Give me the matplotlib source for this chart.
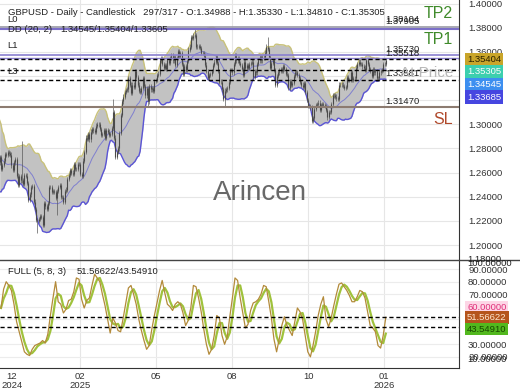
import numpy as np
import pandas as pd
import matplotlib
matplotlib.use('Agg')
import matplotlib.pyplot as plt

plt.rcParams['font.family'] = ['Liberation Sans', 'DejaVu Sans']

# daily closes 04 Nov 2024 .. 26 Jan 2026; the first 20 only warm up the bands
warmup = 20
closes = [
    1.2960, 1.3040, 1.2880, 1.2990, 1.2920, 1.2860, 1.2760, 1.2700, 1.2665, 1.2615,
    1.2660, 1.2680, 1.2670, 1.2590, 1.2530, 1.2570, 1.2570, 1.2675, 1.2685, 1.2730,
    1.2630, 1.2665, 1.2700, 1.2755, 1.2745, 1.2770, 1.2760, 1.2750, 1.2660, 1.2620,
    1.2685, 1.2710, 1.2575, 1.2500, 1.2570, 1.2535, 1.2535, 1.2510, 1.2580, 1.2575,
    1.2515, 1.2375, 1.2420, 1.2480, 1.2490, 1.2360, 1.2300, 1.2205, 1.2200, 1.2215,
    1.2240, 1.2235, 1.2170, 1.2350, 1.2320, 1.2300, 1.2350, 1.2480, 1.2480, 1.2440,
    1.2450, 1.2440, 1.2390, 1.2450, 1.2480, 1.2495, 1.2400, 1.2400, 1.2360, 1.2450,
    1.2460, 1.2550, 1.2580, 1.2620, 1.2600, 1.2590, 1.2670, 1.2630, 1.2630, 1.2670,
    1.2670, 1.2590, 1.2575, 1.2700, 1.2770, 1.2890, 1.2880, 1.2920, 1.2875, 1.2940,
    1.2960, 1.2950, 1.2935, 1.2990, 1.3000, 1.3000, 1.2960, 1.2915, 1.2920, 1.2950,
    1.2885, 1.2950, 1.2940, 1.2915, 1.2920, 1.2970, 1.3100, 1.2890, 1.2730, 1.2770,
    1.2800, 1.2930, 1.3080, 1.3190, 1.3230, 1.3270, 1.3285, 1.3290, 1.3380, 1.3330,
    1.3260, 1.3330, 1.3310, 1.3440, 1.3390, 1.3330, 1.3280, 1.3270, 1.3300, 1.3380,
    1.3320, 1.3240, 1.3300, 1.3190, 1.3320, 1.3290, 1.3300, 1.3280, 1.3360, 1.3370,
    1.3410, 1.3420, 1.3530, 1.3545, 1.3500, 1.3470, 1.3490, 1.3460, 1.3530, 1.3510,
    1.3550, 1.3570, 1.3530, 1.3560, 1.3495, 1.3550, 1.3610, 1.3570, 1.3590, 1.3500,
    1.3420, 1.3485, 1.3450, 1.3525, 1.3620, 1.3645, 1.3720, 1.3715, 1.3735, 1.3740,
    1.3640, 1.3645, 1.3650, 1.3630, 1.3590, 1.3590, 1.3570, 1.3495, 1.3440, 1.3385,
    1.3410, 1.3415, 1.3440, 1.3490, 1.3520, 1.3560, 1.3510, 1.3440, 1.3350, 1.3355,
    1.3290, 1.3210, 1.3280, 1.3290, 1.3300, 1.3355, 1.3450, 1.3450, 1.3430, 1.3500,
    1.3570, 1.3530, 1.3550, 1.3510, 1.3490, 1.3460, 1.3410, 1.3520, 1.3470, 1.3490,
    1.3470, 1.3500, 1.3510, 1.3520, 1.3390, 1.3440, 1.3430, 1.3500, 1.3530, 1.3560,
    1.3530, 1.3560, 1.3555, 1.3595, 1.3645, 1.3625, 1.3560, 1.3470, 1.3510, 1.3530,
    1.3450, 1.3330, 1.3400, 1.3430, 1.3445, 1.3460, 1.3440, 1.3480, 1.3460, 1.3420,
    1.3410, 1.3300, 1.3360, 1.3330, 1.3340, 1.3400, 1.3430, 1.3430, 1.3410, 1.3380,
    1.3350, 1.3330, 1.3310, 1.3340, 1.3270, 1.3200, 1.3150, 1.3150, 1.3140, 1.3030,
    1.3050, 1.3130, 1.3160, 1.3170, 1.3180, 1.3120, 1.3160, 1.3170, 1.3160, 1.3150,
    1.3120, 1.3060, 1.3100, 1.3100, 1.3170, 1.3240, 1.3240, 1.3230, 1.3215, 1.3210,
    1.3330, 1.3330, 1.3330, 1.3320, 1.3300, 1.3310, 1.3390, 1.3370, 1.3370, 1.3430,
    1.3370, 1.3380, 1.3380, 1.3470, 1.3500, 1.3520, 1.3500, 1.3500, 1.3480, 1.3470,
    1.3450, 1.3530, 1.3500, 1.3460, 1.3440, 1.3400, 1.3460, 1.3430, 1.3440, 1.3380,
    1.3380, 1.3430, 1.3440, 1.3450, 1.3500, 1.34988, 1.35305,
]
# notable highs / lows (visible candle index)
high_spikes = {16: 1.2866, 86: 1.3207, 149: 1.3788, 205: 1.3726, 296: 1.35330}
low_spikes = {28: 1.2100, 43: 1.2249, 88: 1.2710, 113: 1.3140, 172: 1.3141,
              239: 1.3010, 251: 1.3040, 296: 1.34810}
wick = 0.0018

# full stochastic %K, read every second candle
stoch_step = 2
stoch_k = [
    59, 74, 80, 77, 73, 62, 48, 40, 32, 24, 22, 21, 26, 29, 30, 31, 33, 31, 38, 53,
    67, 80, 64, 62, 55, 58, 65, 66, 72, 83, 82, 66, 59, 65, 67, 77, 86, 83, 80, 70,
    61, 50, 39, 51, 47, 41, 40, 51, 63, 75, 77, 70, 62, 50, 41, 33, 26, 29, 42, 53,
    63, 73, 81, 71, 62, 60, 57, 62, 64, 62, 55, 45, 49, 59, 77, 76, 67, 56, 42, 30,
    22, 26, 37, 53, 51, 37, 30, 36, 52, 67, 83, 81, 67, 55, 43, 46, 57, 63, 64, 66,
    70, 77, 76, 64, 51, 34, 24, 34, 45, 52, 45, 41, 37, 48, 59, 56, 50, 37, 24, 20,
    29, 40, 53, 62, 68, 50, 44, 51, 61, 70, 78, 79, 76, 73, 69, 64, 64, 68, 73, 72,
    67, 56, 45, 43, 40, 29, 27, 37, 51.56622,
]

date_ticks = [8.5, 60.8, 119.2, 177.7, 236.2, 294.6]
date_labels = ['12\n2024', '02\n2025', '05', '08', '10', '01\n2026']

bb_text = ['1.35404', '1.35305', '1.34545', '1.33685']
bb_colors = ['#c9a52a', '#3ccfae', '#3d8ff0', '#4646e0']
bb_fg = ['#2a2000', 'white', 'white', 'white']
bb_upper, bb_mid, bb_lower = 1.35404, 1.34545, 1.33685
tp2, l0, l1, l2, l3, sl = 1.38104, 1.37905, 1.35730, 1.35518, 1.33581, 1.31470
k_last, d_last = 51.56622, 43.54910

# ---- derived series
c = np.array(closes)
o = np.r_[c[0], c[:-1]]
h = np.maximum(o, c) + wick
l = np.minimum(o, c) - wick
for i, v in high_spikes.items():
    h[warmup + i] = v
for i, v in low_spikes.items():
    l[warmup + i] = v
idx = np.arange(len(c)) - warmup
s = pd.Series(c)
mid = s.rolling(20).mean().values
sd = s.rolling(20).std(ddof=0).values
up, lo = mid + 2 * sd, mid - 2 * sd

W, H = 520, 390
fig = plt.figure(figsize=(W / 100, H / 100), dpi=100)


def fx(x):
    return x / W


def fy(y):
    return 1 - y / H


xlim = (-1 / 1.3, 458 / 1.3)
ax = fig.add_axes([0, fy(260), fx(459), 260 / H])
sx = fig.add_axes([0, fy(368), fx(459), 108 / H])

# ---- main panel
ax.set_xlim(*xlim)
ax.set_ylim(1.38 - (260 - 27.8) / 1207, 1.38 + 27.8 / 1207)
for a in (ax, sx):
    for side in ('left', 'top'):
        a.spines[side].set_visible(False)
    a.spines['right'].set_color('#333333')
    a.yaxis.tick_right()
    a.tick_params(axis='y', length=0, pad=6.5, labelsize=6.8, labelcolor='#333333')
    for t in date_ticks[1:]:
        a.axvline(t, color='#e6e6e6', lw=0.8, zorder=0)
ax.spines['bottom'].set_visible(False)
ax.set_xticks([])
price_ticks = np.arange(1.20, 1.401, 0.02)
ax.set_yticks(price_ticks)
# 1.34 / 1.32 sit under the band boxes
ax.set_yticklabels(['' if abs(v - 1.34) < 1e-6 or abs(v - 1.32) < 1e-6 else '%.5f' % v
                    for v in price_ticks])
ax.grid(axis='y', color='#e6e6e6', lw=0.8)
ax.set_axisbelow(True)

ax.fill_between(idx, lo, up, color='#c2c2c2', lw=0, zorder=1)
ax.plot(idx, up, color='#c9c27a', lw=1.0, zorder=2)
ax.plot(idx, lo, color='#5b55d6', lw=1.0, zorder=2)
ax.plot(idx, mid, color='#7f7fcf', lw=0.7, zorder=2)
ax.vlines(idx, l, h, color='#5a5a5a', lw=0.5, zorder=3)
ax.vlines(idx, np.minimum(o, c), np.maximum(o, c), color='#4a4a4a', lw=0.8, zorder=3)

ax.axhline(tp2, color='#9a9aa6', lw=1.2, zorder=4)
ax.axhline(l0, color='#7b6fc8', lw=1.5, zorder=4)
ax.axhline(l1, color='#8a7fd0', lw=1.2, zorder=4)
ax.axhline(l2, color='#8a7fd0', lw=1.0, zorder=4)
ax.axhline(sl, color='#8c7b70', lw=1.5, zorder=4)
for v in (bb_upper, bb_mid, bb_lower):
    ax.axhline(v, color='black', lw=1.0, ls=(0, (3, 2)), zorder=4)

# ---- stochastic panel
sx.set_xlim(*xlim)
sx.set_ylim(30 - 23.7 / 1.252, 80 + 21.7 / 1.252)
sx.spines['bottom'].set_color('#333333')
sx.spines['top'].set_visible(False)
sx.set_yticks([20, 30, 70, 80, 90])
sx.set_yticklabels(['%.5f' % v for v in [20, 30, 70, 80, 90]])
for v in range(10, 100, 10):
    sx.axhline(v, color='#ececec', lw=0.8, zorder=0)
sx.set_xticks(date_ticks)
sx.set_xticklabels(date_labels)
sx.tick_params(axis='x', length=0, pad=3, labelsize=6.8, labelcolor='#333333')
for lab in sx.get_xticklabels():
    lab.set_linespacing(1.0)
k_idx = np.arange(0, len(stoch_k) * stoch_step, stoch_step)
d_line = pd.Series(stoch_k).rolling(3, min_periods=1).mean().values
sx.plot(k_idx, d_line, color='#9fc23c', lw=1.6, zorder=3)
sx.plot(k_idx, stoch_k, color='#b38a3a', lw=0.9, zorder=4)
for v in (k_last, d_last):
    sx.axhline(v, color='black', lw=1.0, ls=(0, (3, 2)), zorder=5)

fig.add_artist(plt.Line2D([0, 1], [fy(260), fy(260)], color='#444444', lw=1.0))

# ---- texts
txt = dict(fontsize=6.8, color='#222222', va='center')
fig.text(fx(8), fy(12.5), 'GBPUSD - Daily - Candlestick   297/317 - O:1.34988 - H:1.35330 - '
         'L:1.34810 - C:1.35305', **txt)
fig.text(fx(8), fy(30), 'DD (20, 2)', **txt)
fig.text(fx(60), fy(30), '1.34545/1.35404/1.33605', **txt)
fig.text(fx(7), fy(20), 'L0', **txt)
fig.text(fx(7), fy(46), 'L1', **txt)
fig.text(fx(7), fy(72), 'L3', **txt)
for y, v in [(20, '1.38104'), (22, '1.37905'), (49, '1.35730'), (53.5, '1.35518'),
             (74, '1.33581'), (101, '1.31470')]:
    fig.text(fx(385), fy(y), v, **txt)
big = dict(fontsize=11.5, ha='right', va='center')
fig.text(fx(453), fy(13), 'TP2', color='#3f8a2a', **big)
fig.text(fx(453), fy(40), 'TP1', color='#3f8a2a', **big)
fig.text(fx(453), fy(120), 'SL', color='#b0482a', **big)
fig.text(fx(453), fy(73), 'At Price', color='#b8b8b8', fontsize=11, ha='right', va='center')
fig.text(fx(260), fy(193), 'Arincen', color='#686868', fontsize=20, ha='center', va='center')
fig.text(fx(8), fy(272), 'FULL (5, 8, 3)', **txt)
fig.text(fx(77), fy(272), '%.5f/%.5f' % (k_last, d_last), **txt)

for y, v, bg, fg in zip([59.5, 72, 84.5, 97], bb_text, bb_colors, bb_fg):
    fig.text(fx(467), fy(y), v, fontsize=6.8, color=fg, va='center',
             bbox=dict(boxstyle='square,pad=0.25', fc=bg, ec='none'))
fig.text(fx(467), fy(259), '1.18000', **txt)
fig.text(fx(467), fy(264), '100.00000', **txt)
fig.text(fx(467), fy(359), '10.00000', **txt)
fig.text(fx(467), fy(307), '60.00000', fontsize=6.8, color='#e0307a', va='center',
         bbox=dict(boxstyle='square,pad=0.2', fc='#fdd6e6', ec='none'))
fig.text(fx(467), fy(317.5), '%.5f' % k_last, fontsize=6.8, color='#ffe8d0', va='center',
         bbox=dict(boxstyle='square,pad=0.2', fc='#b5541c', ec='none'))
fig.text(fx(467), fy(329), '%.5f' % d_last, fontsize=6.8, color='#184800', va='center',
         bbox=dict(boxstyle='square,pad=0.2', fc='#52b81e', ec='none'))

fig.savefig('out.png', dpi=100)
